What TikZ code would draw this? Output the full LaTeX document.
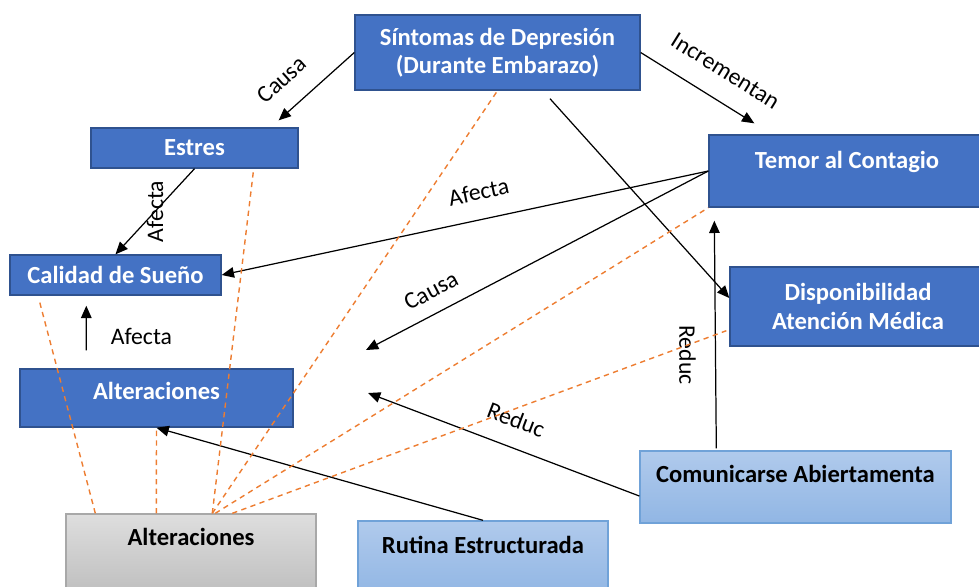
\documentclass[tikz,border=0pt]{standalone}
\usepackage{fontspec}
\setmainfont{Carlito}
\usetikzlibrary{arrows.meta,positioning}

\definecolor{boxblue}{RGB}{68,114,196}
\definecolor{boxedge}{RGB}{47,82,143}
\definecolor{softtop}{RGB}{176,202,236}
\definecolor{softbot}{RGB}{145,182,228}
\definecolor{softedge}{RGB}{112,162,216}
\definecolor{greytop}{RGB}{222,222,222}
\definecolor{greybot}{RGB}{192,192,192}
\definecolor{greyedge}{RGB}{168,168,168}
\definecolor{tieorange}{RGB}{237,125,49}

\tikzset{
  box/.style={draw=boxedge,fill=boxblue,text=white,line width=0.8pt,inner sep=0pt,align=center,
    font=\bfseries\fontsize{14}{16}\selectfont},
  softbox/.style={draw=softedge,top color=softtop,bottom color=softbot,line width=0.8pt,inner sep=0pt,
    align=center,font=\bfseries\fontsize{14}{16}\selectfont},
  greybox/.style={draw=greyedge,top color=greytop,bottom color=greybot,line width=0.8pt,inner sep=0pt,
    align=center,font=\bfseries\fontsize{14}{16}\selectfont},
  link/.style={-{Triangle[length=7pt,width=6pt]},line width=0.7pt},
  tie/.style={draw=tieorange,dash pattern=on 3pt off 2.5pt,line width=0.8pt},
  tag/.style={font=\fontsize{13.5}{15}\selectfont}
}

\begin{document}
\begin{tikzpicture}[x=0.02cm,y=-0.02cm]
\useasboundingbox (0,0) rectangle (979,586);

\coordinate (causaend) at (366,350);
\coordinate (reducend) at (368,393);

\node[box,minimum width=5.7cm,minimum height=1.5cm] (sintomas) at (497.5,52.5) {Síntomas de Depresión\\(Durante Embarazo)};
\node[box,minimum width=4.14cm,minimum height=0.8cm] (estres) at (194.5,148) {Estres};
\node[box,minimum width=4.22cm,minimum height=0.8cm] (calidad) at (115.5,275) {Calidad de Sueño};
\node[box,minimum width=5.46cm,minimum height=1.16cm,text depth=0.28cm] (altera) at (156.5,398) {Alteraciones};
\node[box,minimum width=5.52cm,minimum height=1.44cm,text depth=0.44cm] (temor) at (847,171) {Temor al Contagio};
\node[box,minimum width=5.12cm,minimum height=1.58cm] (dispo) at (858,306.5) {Disponibilidad\\Atención Médica};
\node[softbox,minimum width=6.22cm,minimum height=1.44cm,text depth=0.52cm] (comunica) at (795.5,487) {Comunicarse Abiertamenta};
\node[softbox,minimum width=5cm,minimum height=1.48cm,text depth=0.52cm] (rutina) at (483,558) {Rutina Estructurada};
\node[greybox,minimum width=5cm,minimum height=1.52cm,text depth=0.6cm] (alterb) at (191,552) {Alteraciones};

\draw[link] (sintomas.west) -- node[tag,pos=0.71,above=0.28cm,sloped] {Causa} ([xshift=-0.4cm,yshift=0.14cm]estres.north east);
\draw[link] (estres.south) -- node[tag,midway,rotate=90] {Afecta} (calidad.north);
\draw[link] (sintomas.east) -- node[tag,pos=0.61,above=0.3cm,sloped] {Incrementan} ([xshift=0.92cm,yshift=0.22cm]temor.north west);
\draw[link] ([xshift=1.05cm,yshift=-0.16cm]sintomas.south) -- ([yshift=0.17cm]dispo.west);
\draw[link] (temor.west) -- node[tag,pos=0.46,above=0.26cm,sloped] {Afecta} (calidad.east);
\draw[link] (temor.west) -- node[tag,pos=0.78,above=0.16cm,sloped] {Causa} (causaend);
\draw[link] ([xshift=1.54cm,yshift=0.04cm]comunica.north west) -- node[tag,pos=0.41,xshift=-0.56cm,rotate=-90] {Reduc} ([xshift=0.12cm,yshift=-0.26cm]temor.south west);
\draw[link] ([yshift=-0.18cm]comunica.west) -- node[tag,pos=0.49,above=0.26cm,sloped] {Reduc} (reducend);
\draw[link] (rutina.north) -- (altera.south);
\draw[link] ([xshift=1.34cm,yshift=0.36cm]altera.north west) -- node[tag,right=0.36cm,yshift=-0.16cm] {Afecta} ([xshift=1.54cm,yshift=-0.2cm]calidad.south west);

\draw[tie] ([xshift=0.6cm]alterb.north west) -- ([xshift=0.6cm,yshift=-0.1cm]calidad.south west);
\draw[tie] ([xshift=1.82cm]alterb.north west) -- ([yshift=-0.06cm]altera.south);
\draw[tie] ([xshift=2.94cm]alterb.north west) -- ([xshift=-0.9cm]estres.south east);
\draw[tie] ([xshift=2.94cm]alterb.north west) -- (sintomas.south);
\draw[tie] ([xshift=3cm]alterb.north west) -- (temor.south west);
\draw[tie] ([xshift=3.34cm]alterb.north west) -- ([xshift=-0.06cm,yshift=0.32cm]dispo.south west);
\end{tikzpicture}
\end{document}
